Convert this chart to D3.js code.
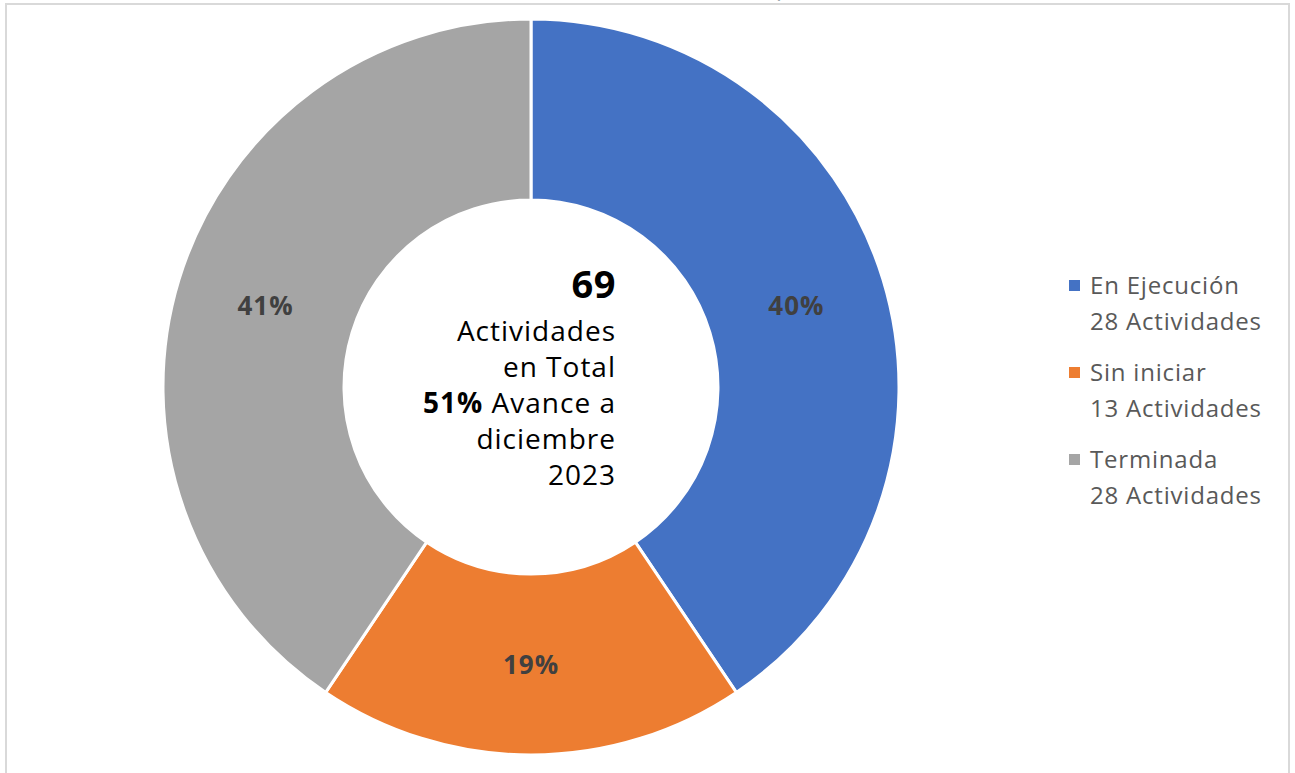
<!DOCTYPE html>
<html>
<head>
<meta charset="utf-8">
<script src="https://cdn.jsdelivr.net/npm/d3@7"></script>
<style>
    body { margin: 0; background: #fff; }
    svg { display: block; font-family: "Segoe UI", "Open Sans", "Noto Sans", sans-serif; }
</style>
</head>
<body>
<svg id="chart"></svg>
<script>
// data
const categories = ["En Ejecución", "Sin iniciar", "Terminada"]
const values = [28, 13, 28]
const pctLabels = ["40%", "19%", "41%"]
const legendSub = ["28 Actividades", "13 Actividades", "28 Actividades"]
const colors = ["#4472C4", "#ED7D31", "#A5A5A5"]
const centerLines = [
    [{t: "69", b: true}],
    [{t: "Actividades", b: false}],
    [{t: "en Total", b: false}],
    [{t: "51%", b: true}, {t: " Avance a", b: false}],
    [{t: "diciembre", b: false}],
    [{t: "2023", b: false}]
]

const w = 1295
const h = 773
const cx = 531
const cy = 387
const outerR = 368
const innerR = 187

const svg = d3.select("#chart")
    .attr("width", w)
    .attr("height", h)

// chart area frame (bottom runs off the picture)
svg.append("rect")
    .attr("x", 6)
    .attr("y", 4)
    .attr("width", 1283)
    .attr("height", h + 20)
    .attr("fill", "none")
    .attr("stroke", "#d9d9d9")
    .attr("stroke-width", 2)

// cut off title fragment
svg.append("text")
    .attr("x", 777)
    .attr("y", -4)
    .attr("text-anchor", "middle")
    .attr("font-size", 26)
    .attr("fill", "#44546A")
    .text("(")

const pie = d3.pie().sort(null).value(d => d)
const arc = d3.arc().innerRadius(innerR).outerRadius(outerR)

const g = svg.append("g")
    .attr("transform", `translate(${cx}, ${cy})`)

const arcs = pie(values)

g.selectAll(".slice")
    .data(arcs)
    .enter()
    .append("path")
    .attr("class", "slice")
    .attr("d", arc)
    .attr("fill", (d, i) => colors[i])
    .attr("stroke", "#fff")
    .attr("stroke-width", 3)

g.selectAll(".pct")
    .data(arcs)
    .enter()
    .append("text")
    .attr("class", "pct")
    .attr("transform", d => `translate(${arc.centroid(d)})`)
    .attr("text-anchor", "middle")
    .attr("dy", "0.35em")
    .attr("font-size", 26)
    .attr("letter-spacing", 1)
    .attr("font-weight", "bold")
    .attr("fill", "#404040")
    .text((d, i) => pctLabels[i])

// center text, right aligned
const lineY = [298, 341, 377, 413, 449, 485]

centerLines.forEach((line, i) => {
    const t = svg.append("text")
        .attr("x", 616)
        .attr("y", lineY[i])
        .attr("text-anchor", "end")
        .attr("fill", "#000")
        .attr("font-size", i == 0 ? 38 : 28)
        .attr("letter-spacing", i == 0 ? 0.5 : 1)
    line.forEach(part => {
        t.append("tspan")
            .attr("font-weight", part.b ? "bold" : "normal")
            .text(part.t)
    })
})

// legend
const legend = svg.append("g")
    .attr("transform", "translate(1069, 0)")

const legendY = [294, 381, 468]

categories.forEach((c, i) => {
    legend.append("rect")
        .attr("x", 0)
        .attr("y", legendY[i] - 14)
        .attr("width", 11)
        .attr("height", 11)
        .attr("fill", colors[i])

    legend.append("text")
        .attr("x", 21)
        .attr("y", legendY[i])
        .attr("font-size", 24)
        .attr("letter-spacing", 0.8)
        .attr("fill", "#595959")
        .text(c)

    legend.append("text")
        .attr("x", 21)
        .attr("y", legendY[i] + 36)
        .attr("font-size", 24)
        .attr("letter-spacing", 0.8)
        .attr("fill", "#595959")
        .text(legendSub[i])
})
</script>
</body>
</html>
